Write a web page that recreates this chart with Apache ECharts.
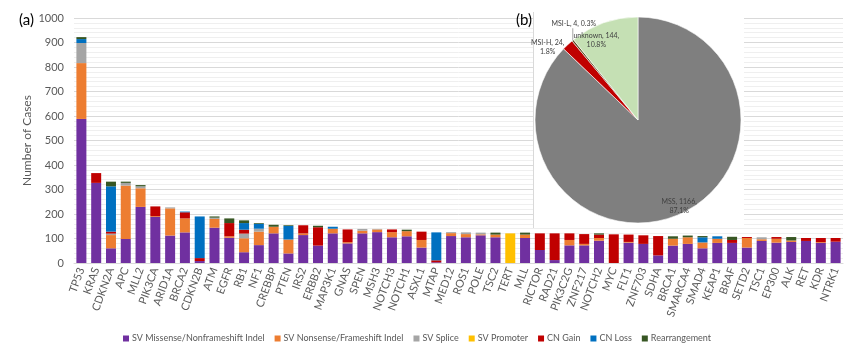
<!DOCTYPE html>
<html>
<head>
<meta charset="utf-8">
<script src="https://cdn.jsdelivr.net/npm/echarts@6/dist/echarts.min.js"></script>
<style>
html,body{margin:0;padding:0;background:#fff;}
#c{width:865px;height:346px;}
</style>
</head>
<body>
<div id="c"></div>
<script>
const categories = ['TP53','KRAS','CDKN2A','APC','MLL2','PIK3CA','ARID1A','BRCA2','CDKN2B','ATM','EGFR','RB1','NF1','CREBBP','PTEN','IRS2','ERBB2','MAP3K1','GNAS','SPEN','MSH3','NOTCH3','NOTCH1','ASXL1','MTAP','MED12','ROS1','POLE','TSC2','TERT','MLL','RICTOR','RAD21','PIK3C2G','ZNF217','NOTCH2','MYC','FLT1','ZNF703','SDHA','BRCA1','SMARCA4','SMAD4','KEAP1','BRAF','SETD2','TSC1','EP300','ALK','RET','KDR','NTRK1'];

const svMissense = [588,327,60,98,229,188,112,125,8,144,103,44,73,121,39,114,71,121,80,121,126,105,109,63,3,110,105,113,105,0,102,53,12,72,72,91,0,83,78,31,71,78,60,82,82,63,90,83,86,90,82,87];
const svNonsense = [228,0,54,218,76,3,111,57,0,36,6,57,55,27,57,7,0,19,5,11,11,21,21,31,0,12,13,4,11,0,14,0,0,22,6,11,0,3,0,0,28,27,24,17,0,39,7,16,6,0,3,0];
const svSplice   = [82,0,6,11,8,0,4,0,0,5,0,19,12,0,0,0,0,0,0,7,2,0,0,0,0,4,7,7,0,0,0,0,0,0,0,0,0,0,0,0,0,0,0,0,0,0,8,0,0,0,0,0];
const svPromoter = [0,0,0,0,0,0,0,0,0,0,0,0,0,0,0,0,0,0,0,0,0,0,0,0,0,0,0,0,0,121,0,0,0,0,0,0,0,0,0,0,0,0,0,0,0,0,0,0,0,0,0,0];
const cnGain     = [0,40,8,0,0,40,0,25,12,0,54,16,0,0,0,33,75,0,52,0,0,11,0,34,8,0,0,0,0,0,0,68,109,27,40,14,117,30,35,79,0,0,0,0,12,4,0,7,0,12,17,15];
const cnLoss     = [16,0,185,0,0,0,0,3,170,0,0,27,20,0,55,0,0,8,0,0,0,0,0,0,114,0,0,0,0,0,0,0,0,0,0,0,0,0,0,0,0,0,21,10,0,0,0,0,0,0,0,0];
const rearrangement = [8,0,19,5,5,0,0,0,0,5,19,11,3,8,3,0,6,0,0,0,0,0,6,0,0,0,0,0,8,0,8,0,0,0,0,5,0,0,0,0,10,7,5,0,13,0,0,0,14,0,0,0];

const seriesNames = ['SV Missense/Nonframeshift Indel','SV Nonsense/Frameshift Indel','SV Splice','SV Promoter','CN Gain','CN Loss','Rearrangement'];
const seriesColors = ['#7030a0','#ed7d31','#a5a5a5','#ffc000','#c00000','#0070c0','#375623'];
const seriesData = [svMissense, svNonsense, svSplice, svPromoter, cnGain, cnLoss, rearrangement];

const yTicks = [0,100,200,300,400,500,600,700,800,900,1000];

const msiNames = ['MSS','MSI-H','MSI-L','unknown'];
const msiValues = [1166,24,4,144];
const msiColors = ['#7f7f7f','#c00000','#5b4a1f','#c5e0b4'];

const FONT = 'Lato';
const chart = echarts.init(document.getElementById('c'), null, {renderer:'canvas'});

const barSeries = seriesNames.map((n,i)=>({
  name:n, type:'bar', stack:'total', barWidth:10, z:2,
  itemStyle:{color:seriesColors[i]},
  data:seriesData[i]
}));

const pieData = msiNames.map((n,i)=>({name:n, value:msiValues[i], itemStyle:{color:msiColors[i]}}));

const option = {
  animation:false,
  textStyle:{fontFamily:FONT},
  title:[
    {text:'(a)', left:14, top:8, textStyle:{fontFamily:FONT, fontSize:15, fontWeight:'normal', color:'#000'}},
    {text:'(b)', left:511, top:8, z:10, textStyle:{fontFamily:FONT, fontSize:15, fontWeight:'normal', color:'#000'}}
  ],
  legend:{
    data:seriesNames, left:118, top:329, itemWidth:6, itemHeight:6, itemGap:10, icon:'rect',
    textStyle:{fontFamily:FONT, fontSize:9, color:'#595959', padding:[0,0,0,-2]}
  },
  grid:{left:74, right:22, top:18, bottom:83},
  xAxis:{
    type:'category', data:categories,
    axisTick:{show:false},
    axisLine:{lineStyle:{color:'#d9d9d9'}},
    axisLabel:{interval:0, rotate:70, fontSize:11, color:'#595959', margin:5, fontFamily:FONT}
  },
  yAxis:{
    type:'value', min:yTicks[0], max:yTicks[yTicks.length-1], interval:100,
    name:'Number of Cases', nameLocation:'middle', nameGap:41, nameMoveOverlap:false,
    nameTextStyle:{fontSize:12, color:'#595959', fontFamily:FONT},
    axisLabel:{fontSize:11, color:'#595959', fontFamily:FONT, margin:10, formatter:function(v){return String(v);}},
    axisLine:{show:false}, axisTick:{show:false},
    splitLine:{lineStyle:{color:'#d9d9d9'}},
    minorTick:{show:false, splitNumber:5},
    minorSplitLine:{show:true, lineStyle:{color:'#efefef'}}
  },
  graphic:[
    {type:'rect', z:1, shape:{x:533, y:0, width:211, height:228}, style:{fill:'#fff'}},
    {type:'line', z:1, shape:{x1:533.5, y1:12, x2:533.5, y2:228}, style:{stroke:'#d9d9d9', lineWidth:1}}
  ],
  series:[
    ...barSeries,
    {
      type:'pie', name:'MSI', z:5, center:[638,120], radius:103, startAngle:90, clockwise:true,
      percentPrecision:1, silent:true, avoidLabelOverlap:false,
      itemStyle:{borderColor:'#fff', borderWidth:0.6},
      data:pieData.map((d,i)=>{
        const o = Object.assign({}, d);
        if (d.name==='MSI-H' || d.name==='MSI-L') {
          o.label = {show:true, position:'outside', formatter: d.name==='MSI-H' ? '{b}, {c},\n{d}%' : '{b}, {c}, {d}%', fontSize:7, color:'#404040', lineHeight:9, align:'center'};
          o.labelLine = {show:true, length:8, length2:0, lineStyle:{color:'#a6a6a6', width:1, opacity: d.name==='MSI-L'?1:0}};
        } else {
          o.label = {show:false};
          o.labelLine = {show:false};
        }
        return o;
      }),
      labelLayout: function(p){
        const pts = p.labelLinePoints;
        if (!pts) return {};
        const e = pts[0];
        if (p.dataIndex === 2) {
          return {x:e[0]+1, y:e[1]-17, align:'center', verticalAlign:'middle',
                  labelLinePoints:[[e[0],e[1]],[e[0],e[1]-12],[e[0],e[1]-12]]};
        }
        if (p.dataIndex === 1) {
          return {x:e[0]-20, y:e[1]+3, align:'center', verticalAlign:'middle',
                  labelLinePoints:[[e[0],e[1]],[e[0],e[1]],[e[0],e[1]]]};
        }
        return {};
      }
    },
    {
      type:'pie', name:'MSI-labels', z:6, center:[638,120], radius:[70,103], startAngle:90, clockwise:true,
      percentPrecision:1, silent:true,
      itemStyle:{color:'rgba(0,0,0,0)'},
      label:{show:true, position:'inside', formatter:'{b}, {c},\n{d}%', fontSize:7, lineHeight:9, color:'#404040'},
      data:pieData.map(d=>({name:d.name, value:d.value, itemStyle:{color:'rgba(0,0,0,0)'},
        label:{show: d.name==='MSS' || d.name==='unknown'}})),
      labelLayout: function(p){
        if (p.dataIndex === 3) return {dx:-12, dy:5};
        if (p.dataIndex === 0) return {dx:6, dy:4};
        return {};
      }
    }
  ]
};
chart.setOption(option);
</script>
</body>
</html>
